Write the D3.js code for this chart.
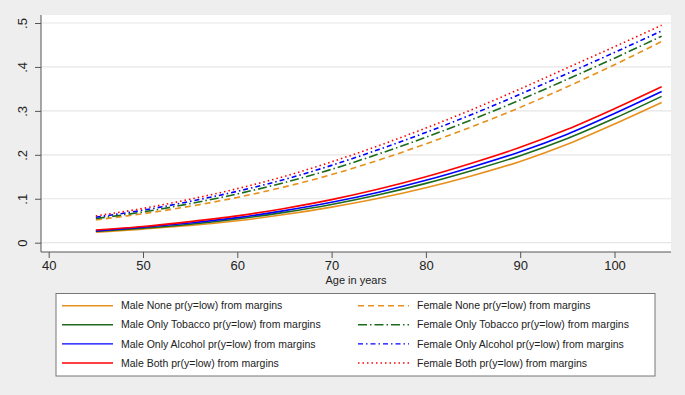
<!DOCTYPE html>
<html>
<head>
<meta charset="utf-8">
<script src="https://cdn.jsdelivr.net/npm/d3@7"></script>
<style>
  body { margin: 0; background: #eeeeee; }
  svg { display: block; font-family: "Liberation Sans", Arial, sans-serif; }
</style>
</head>
<body>
<svg id="chart" width="685" height="395"></svg>
<script>
// Data
const ages = [45, 50, 55, 60, 65, 70, 75, 80, 85, 90, 95, 100, 105];
const maleNone     = [0.024, 0.031, 0.039, 0.050, 0.064, 0.081, 0.101, 0.125, 0.153, 0.185, 0.224, 0.270, 0.319];
const maleTobacco  = [0.026, 0.033, 0.042, 0.054, 0.069, 0.087, 0.109, 0.135, 0.165, 0.198, 0.237, 0.283, 0.333];
const maleAlcohol  = [0.027, 0.035, 0.045, 0.057, 0.073, 0.092, 0.115, 0.142, 0.173, 0.207, 0.247, 0.294, 0.344];
const maleBoth     = [0.029, 0.037, 0.048, 0.061, 0.078, 0.098, 0.122, 0.150, 0.182, 0.217, 0.258, 0.305, 0.355];
const femaleNone    = [0.052, 0.066, 0.083, 0.103, 0.127, 0.155, 0.188, 0.225, 0.265, 0.308, 0.355, 0.405, 0.458];
const femaleTobacco = [0.055, 0.070, 0.089, 0.111, 0.137, 0.167, 0.202, 0.240, 0.281, 0.325, 0.372, 0.420, 0.470];
const femaleAlcohol = [0.058, 0.074, 0.094, 0.117, 0.144, 0.176, 0.212, 0.251, 0.293, 0.338, 0.385, 0.433, 0.482];
const femaleBoth    = [0.061, 0.078, 0.099, 0.123, 0.151, 0.184, 0.221, 0.261, 0.304, 0.350, 0.398, 0.446, 0.495];

const xTicks = [40, 50, 60, 70, 80, 90, 100];
const yTicks = [0, 0.1, 0.2, 0.3, 0.4, 0.5];
const yTickLabels = ["0", ".1", ".2", ".3", ".4", ".5"];

const orange = "#e8901c", green = "#1c6b1c", blue = "#0000ff", red = "#ff0000";

const series = [
  { label: "Male None pr(y=low) from margins", values: maleNone, color: orange, dash: null },
  { label: "Male Only Tobacco pr(y=low) from margins", values: maleTobacco, color: green, dash: null },
  { label: "Male Only Alcohol pr(y=low) from margins", values: maleAlcohol, color: blue, dash: null },
  { label: "Male Both pr(y=low) from margins", values: maleBoth, color: red, dash: null },
  { label: "Female None pr(y=low) from margins", values: femaleNone, color: orange, dash: "6,4" },
  { label: "Female Only Tobacco pr(y=low) from margins", values: femaleTobacco, color: green, dash: "9,3,1.5,3" },
  { label: "Female Only Alcohol pr(y=low) from margins", values: femaleAlcohol, color: blue, dash: "5,3,1.5,3" },
  { label: "Female Both pr(y=low) from margins", values: femaleBoth, color: red, dash: "1.5,3" }
];

const svg = d3.select("#chart");
const plot = { left: 41, right: 671, top: 15, bottom: 252 };

const x = d3.scaleLinear().domain([40, 100]).range([48.7, 614.5]);
const y = d3.scaleLinear().domain([0, 0.5]).range([242.7, 23]);

// plot region
svg.append("rect")
  .attr("x", plot.left).attr("y", plot.top)
  .attr("width", plot.right - plot.left).attr("height", plot.bottom - plot.top)
  .attr("fill", "#ffffff");

// gridlines
svg.append("g").selectAll("line")
  .data(yTicks)
  .join("line")
  .attr("x1", plot.left).attr("x2", plot.right)
  .attr("y1", d => y(d)).attr("y2", d => y(d))
  .attr("stroke", "#e6e6e6")
  .attr("stroke-width", 1.2);

// lines
const line = d3.line()
  .x((d, i) => x(ages[i]))
  .y(d => y(d))
  .curve(d3.curveMonotoneX);

svg.append("g").selectAll("path")
  .data(series)
  .join("path")
  .attr("d", d => line(d.values))
  .attr("fill", "none")
  .attr("stroke", d => d.color)
  .attr("stroke-width", 1.6)
  .attr("stroke-dasharray", d => d.dash);

// axes
const yAxis = d3.axisLeft(y).tickValues(yTicks).tickSize(6)
  .tickFormat((d, i) => yTickLabels[i]);
const gy = svg.append("g").attr("transform", `translate(${plot.left},0)`).call(yAxis);
gy.select(".domain").attr("d", `M0,${plot.top}V${plot.bottom}`).attr("stroke", "#555");
gy.selectAll(".tick line").attr("stroke", "#555");
gy.selectAll(".tick text")
  .attr("font-size", 13).attr("fill", "#222")
  .attr("x", 0).attr("y", 0).attr("dy", "0.35em")
  .attr("text-anchor", "middle")
  .attr("transform", "translate(-19,0) rotate(-90)");

const xAxis = d3.axisBottom(x).tickValues(xTicks).tickSize(6).tickPadding(3);
const gx = svg.append("g").attr("transform", `translate(0,${plot.bottom})`).call(xAxis);
gx.select(".domain").attr("d", `M${plot.left},0H${plot.right}`).attr("stroke", "#555");
gx.selectAll(".tick line").attr("stroke", "#555");
gx.selectAll(".tick text").attr("font-size", 13).attr("fill", "#222");

svg.append("text")
  .attr("x", (plot.left + plot.right) / 2).attr("y", 284)
  .attr("text-anchor", "middle")
  .attr("font-size", 11).attr("fill", "#222")
  .text("Age in years");

// legend
const legend = svg.append("g");
legend.append("rect")
  .attr("x", 56).attr("y", 293.5)
  .attr("width", 599).attr("height", 82.5)
  .attr("fill", "#ffffff")
  .attr("stroke", "#777").attr("stroke-width", 1);

const items = legend.selectAll("g.item")
  .data(series)
  .join("g")
  .attr("class", "item")
  .attr("transform", (d, i) => `translate(${i < 4 ? 62 : 358},${305.7 + (i % 4) * 19.1})`);

items.append("line")
  .attr("x1", 0).attr("x2", 51)
  .attr("stroke", d => d.color)
  .attr("stroke-width", 1.4)
  .attr("stroke-dasharray", d => d.dash);

items.append("text")
  .attr("x", 59).attr("dy", "0.35em")
  .attr("font-size", 10.5).attr("fill", "#222")
  .text(d => d.label);
</script>
</body>
</html>
